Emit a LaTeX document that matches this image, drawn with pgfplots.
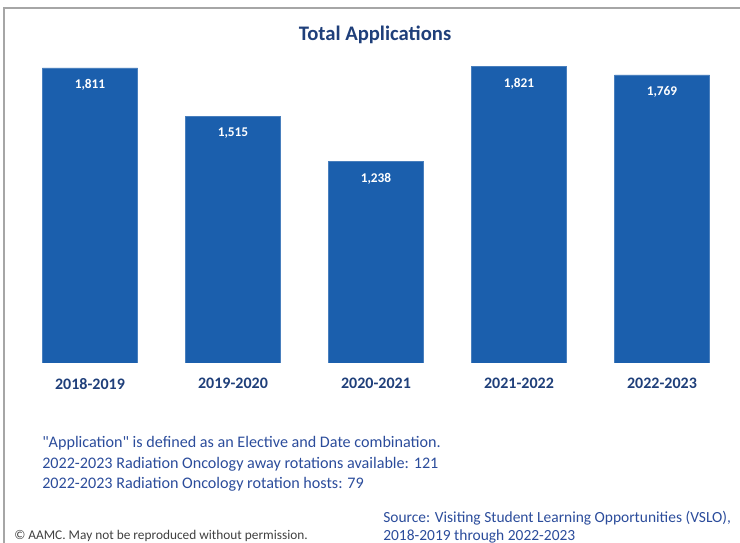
\documentclass[border=0pt]{standalone}
\usepackage{pgfplots}
\pgfplotsset{compat=1.18}
\usepackage{fontspec}
\setmainfont{Carlito}

\definecolor{barblue}{HTML}{1B5FAD}
\definecolor{navy}{HTML}{1F3F7A}
\definecolor{notetext}{HTML}{2B4C9B}
\definecolor{framegray}{HTML}{A6A6A6}

\begin{document}
\begin{tikzpicture}[x=0.75pt,y=0.75pt]
\useasboundingbox (0,0) rectangle (740,543);
\coordinate (axpos) at (18.5,180);

% frame
\draw[framegray, line width=1.1pt] (4,0) -- (4,535) -- (741,535);

\node[navy, font=\fontsize{15.5}{18}\selectfont\bfseries] at (375,508) {Total Applications};

\begin{axis}[
    at={(axpos)}, anchor=south west,
    scale only axis,
    width=536.25pt, height=244.35pt,
    xmin=-0.5, xmax=4.5,
    ymin=0, ymax=2000,
    axis line style={draw=none},
    major tick style={draw=none},
    ytick=\empty,
    xtick={0,1,2,3,4},
    xticklabels={2018-2019,2019-2020,2020-2021,2021-2022,2022-2023},
    xticklabel style={anchor=center, yshift=-11.25pt, text=navy,
        font=\fontsize{12}{14}\selectfont\bfseries},
    ybar, bar width=71.25pt,
    nodes near coords,
    nodes near coords style={anchor=center, yshift=-12.75pt, text=white,
        font=\fontsize{10}{12}\selectfont\bfseries,
        /pgf/number format/assume math mode=true,
        /pgf/number format/1000 sep={,}},
]
\addplot[fill=barblue, draw=barblue!80!white, line width=0.4pt]
    coordinates {(0,1811) (1,1515) (2,1238) (3,1821) (4,1769)};
\end{axis}

\begin{scope}[every node/.style={anchor=west, inner sep=0pt, text=notetext,
        font=\fontsize{12.1}{14}\selectfont}]
\node at (42,100) {\textquotedbl Application\textquotedbl{} is defined as an Elective and Date combination.};
\node at (42,79) {2022-2023 Radiation Oncology away rotations available: 121};
\node at (42,59) {2022-2023 Radiation Oncology rotation hosts: 79};
\end{scope}
\begin{scope}[every node/.style={anchor=west, inner sep=0pt, text=notetext,
        font=\fontsize{11.6}{14}\selectfont}]
\node at (383,25) {Source: Visiting Student Learning Opportunities (VSLO),};
\node at (383,7) {2018-2019 through 2022-2023};
\end{scope}
\node[anchor=west, inner sep=0pt, text=black!75, font=\fontsize{10}{12}\selectfont]
    at (14,7) {\textcopyright{} AAMC. May not be reproduced without permission.};
\end{tikzpicture}
\end{document}
